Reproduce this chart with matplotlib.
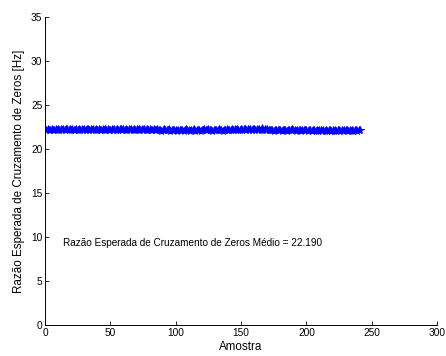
import numpy as np
import matplotlib
matplotlib.use('Agg')
import matplotlib.pyplot as plt

plt.rcParams['font.family'] = ['Liberation Sans', 'DejaVu Sans']

# Expected zero-crossing rate per sample
rate = [
    22.18, 22.25, 22.12, 22.21, 22.27, 22.15, 22.22, 22.30, 22.17, 22.24,
    22.11, 22.26, 22.19, 22.28, 22.14, 22.23, 22.31, 22.16, 22.25, 22.20,
    22.27, 22.13, 22.22, 22.29, 22.18, 22.24, 22.15, 22.30, 22.21, 22.26,
    22.12, 22.23, 22.28, 22.17, 22.25, 22.20, 22.32, 22.16, 22.24, 22.19,
    22.26, 22.14, 22.21, 22.29, 22.18, 22.25, 22.13, 22.27, 22.22, 22.17,
    22.30, 22.15, 22.24, 22.20, 22.28, 22.12, 22.23, 22.26, 22.19, 22.31,
    22.16, 22.24, 22.21, 22.28, 22.14, 22.25, 22.19, 22.30, 22.17, 22.26,
    22.22, 22.33, 22.15, 22.24, 22.20, 22.29, 22.18, 22.27, 22.13, 22.25,
    22.21, 22.16, 22.24, 22.11, 22.19, 22.26, 22.14, 22.22, 22.09, 22.18,
    22.23, 22.12, 22.20, 22.15, 22.25, 22.10, 22.17, 22.22, 22.13, 22.19,
    22.08, 22.16, 22.21, 22.12, 22.18, 22.06, 22.15, 22.23, 22.11, 22.17,
    22.09, 22.20, 22.14, 22.24, 22.10, 22.16, 22.13, 22.21, 22.07, 22.18,
    22.15, 22.23, 22.11, 22.19, 22.26, 22.13, 22.17, 22.09, 22.22, 22.16,
    22.12, 22.20, 22.25, 22.14, 22.18, 22.10, 22.21, 22.15, 22.24, 22.17,
    22.22, 22.13, 22.27, 22.19, 22.25, 22.16, 22.29, 22.21, 22.14, 22.26,
    22.18, 22.31, 22.23, 22.17, 22.28, 22.20, 22.33, 22.15, 22.24, 22.27,
    22.19, 22.30, 22.22, 22.26, 22.16, 22.34, 22.21, 22.25, 22.14, 22.23,
    22.18, 22.11, 22.20, 22.15, 22.09, 22.17, 22.22, 22.12, 22.16, 22.19,
    22.10, 22.18, 22.14, 22.21, 22.08, 22.16, 22.12, 22.19, 22.23, 22.11,
    22.15, 22.09, 22.20, 22.13, 22.17, 22.06, 22.14, 22.19, 22.11, 22.16,
    22.08, 22.13, 22.17, 22.05, 22.12, 22.18, 22.09, 22.14, 22.03, 22.11,
    22.16, 22.07, 22.13, 22.10, 22.15, 22.04, 22.12, 22.17, 22.08, 22.14,
    22.10, 22.16, 22.06, 22.13, 22.18, 22.09, 22.12, 22.05, 22.15, 22.11,
    22.17, 22.08, 22.13, 22.10, 22.16, 22.07, 22.14, 22.11, 22.09, 22.15,
    22.12,
]
sample = np.arange(1, len(rate) + 1)

x_ticks = [0, 50, 100, 150, 200, 250, 300]
y_ticks = [0, 5, 10, 15, 20, 25, 30, 35]
mean_label = 'Razão Esperada de Cruzamento de Zeros Médio = 22.190'

fig = plt.figure(figsize=(4.46, 3.56), dpi=100)
ax = fig.add_axes([0.101, 0.087, 0.879, 0.865])

ax.plot(sample, rate, '-*', color='#0000ff', linewidth=0.6,
        markersize=5.5, markeredgewidth=0.7)

ax.text(14, 9.3, mean_label, fontsize=7.2, va='center', ha='left')

ax.set_xlim(0, 300)
ax.set_ylim(0, 35)
ax.set_xticks(x_ticks)
ax.set_yticks(y_ticks)
ax.tick_params(direction='in', length=3, width=0.6, labelsize=7.3, pad=2)
ax.spines['top'].set_visible(False)
ax.spines['right'].set_visible(False)
for s in ('left', 'bottom'):
    ax.spines[s].set_linewidth(0.7)

ax.set_xlabel('Amostra', fontsize=8.4, labelpad=2)
ax.set_ylabel('Razão Esperada de Cruzamento de Zeros [Hz]', fontsize=8.4, labelpad=4)

fig.savefig('out.png', dpi=100, facecolor='white')
